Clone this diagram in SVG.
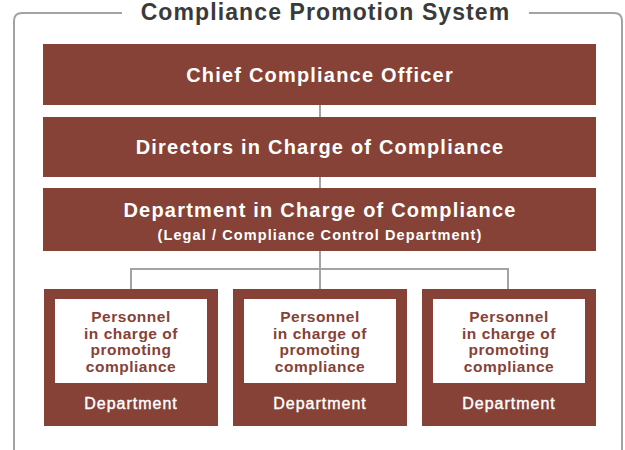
<svg xmlns="http://www.w3.org/2000/svg" width="625" height="450" viewBox="0 0 625 450">
<style>
.box{fill:#864236}
.inner{fill:#ffffff}
.line{stroke:#a3a3a6;stroke-width:2;fill:none}
.frame{stroke:#a3a3a6;stroke-width:2;fill:none}
.t{font-family:"Liberation Sans",Arial,sans-serif;font-weight:bold;text-anchor:middle}
.big{font-size:20px;letter-spacing:1.2px;fill:#ffffff}
.sub{font-size:14.5px;letter-spacing:1.1px;fill:#ffffff}
.pers{font-size:15.5px;letter-spacing:0.5px;fill:#864236}
.dept{font-size:16px;letter-spacing:1px;fill:#ffffff;font-weight:normal;stroke:#ffffff;stroke-width:0.4px}
.title{font-size:23px;letter-spacing:1.1px;fill:#3a3a3a}
</style>
<rect width="625" height="450" fill="#ffffff"/>
<g id="frame">
<path class="frame" d="M122,13 H22 Q14,13 14,21 V452 M529,13 H614 Q622,13 622,21 V452"/>
<text class="t title" x="325.5" y="20">Compliance Promotion System</text>
</g>
<g id="connectors">
<line class="line" x1="320" y1="104" x2="320" y2="117"/>
<line class="line" x1="320" y1="177" x2="320" y2="188"/>
<line class="line" x1="320" y1="251" x2="320" y2="289"/>
<polyline class="line" points="131,289 131,269 508,269 508,289"/>
</g>
<g id="chief">
<rect class="box" x="43" y="44" width="553" height="61"/>
<text class="t big" x="320" y="82">Chief Compliance Officer</text>
</g>
<g id="directors">
<rect class="box" x="43" y="117" width="553" height="60"/>
<text class="t big" x="320" y="154">Directors in Charge of Compliance</text>
</g>
<g id="department">
<rect class="box" x="43" y="188" width="553" height="63"/>
<text class="t big" x="320" y="217">Department in Charge of Compliance</text>
<text class="t sub" x="320" y="240">(Legal / Compliance Control Department)</text>
</g>
<g id="dept1">
<rect class="box" x="44" y="289" width="174" height="137"/>
<rect class="inner" x="55" y="299" width="152" height="84"/>
<text class="t pers" x="131" y="322">Personnel</text>
<text class="t pers" x="131" y="338.5">in charge of</text>
<text class="t pers" x="131" y="355">promoting</text>
<text class="t pers" x="131" y="371.5">compliance</text>
<text class="t dept" x="131" y="409">Department</text>
</g>
<g id="dept2">
<rect class="box" x="233" y="289" width="174" height="137"/>
<rect class="inner" x="244" y="299" width="152" height="84"/>
<text class="t pers" x="320" y="322">Personnel</text>
<text class="t pers" x="320" y="338.5">in charge of</text>
<text class="t pers" x="320" y="355">promoting</text>
<text class="t pers" x="320" y="371.5">compliance</text>
<text class="t dept" x="320" y="409">Department</text>
</g>
<g id="dept3">
<rect class="box" x="422" y="289" width="174" height="137"/>
<rect class="inner" x="433" y="299" width="152" height="84"/>
<text class="t pers" x="509" y="322">Personnel</text>
<text class="t pers" x="509" y="338.5">in charge of</text>
<text class="t pers" x="509" y="355">promoting</text>
<text class="t pers" x="509" y="371.5">compliance</text>
<text class="t dept" x="509" y="409">Department</text>
</g>
</svg>
